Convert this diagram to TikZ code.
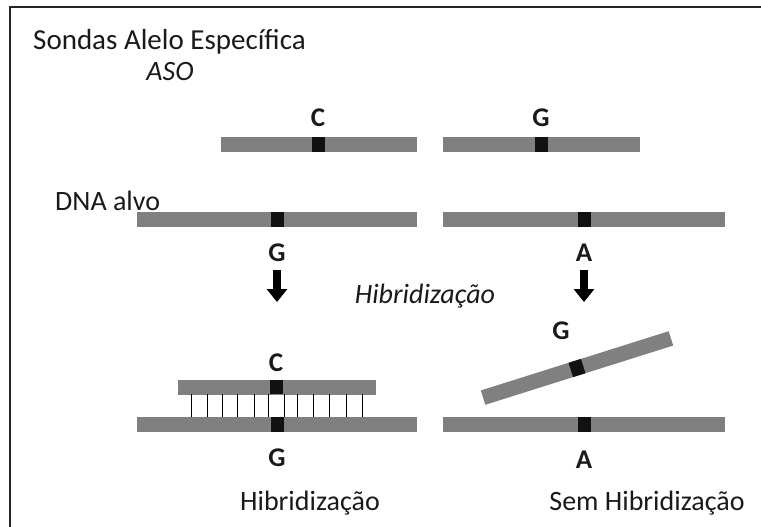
\documentclass[tikz,border=0pt]{standalone}
\usepackage{fontspec}
\setmainfont{Carlito}
\usetikzlibrary{arrows.meta}
\definecolor{bargray}{HTML}{808080}
\definecolor{snp}{HTML}{111111}
\definecolor{txt}{HTML}{1A1A1A}
\begin{document}
\begin{tikzpicture}[x=1pt,y=-1pt,
  bar/.style={fill=bargray, draw=none, inner sep=0pt, minimum height=15pt},
  snpbox/.style={fill=snp, draw=none, inner sep=0pt, minimum width=13pt, minimum height=15pt},
  base/.style={font=\fontsize{27}{27}\selectfont\bfseries, text=txt, inner sep=0pt},
  lbl/.style={font=\fontsize{28}{28}\selectfont, text=txt, inner sep=0pt},
  bigarrow/.style={line width=7.5pt, -{Triangle[width=20pt,length=13pt]}, draw=black},
  rung/.style={line width=1pt, draw=black}]
\useasboundingbox (0,0) rectangle (761,527);
\fill[white] (0,0) rectangle (761,527);
\draw[line width=2pt, draw=black!85] (10,527) -- (10,7) -- (761,7);

% titles
\node[lbl, anchor=west, font=\fontsize{29}{29}\selectfont] (title) at (33,42) {Sondas Alelo Específica};
\node[lbl, font=\fontsize{28}{28}\selectfont\itshape] (aso) at (170,72) {ASO};
\node[lbl, anchor=west] (dna) at (55,201) {DNA alvo};

% probes
\node[bar, minimum width=196pt] (p1) at (319,144) {};
\node[snpbox] (p1s) at (318,144) {};
\node[base] (p1l) at (318,118) {C};
\node[bar, minimum width=197pt] (p2) at (541.5,144) {};
\node[snpbox] (p2s) at (541,144) {};
\node[base] (p2l) at (541,118) {G};

% targets
\node[bar, minimum width=280pt] (t1) at (277,219.5) {};
\node[snpbox] (t1s) at (277,219.5) {};
\node[base] (t1l) at (277,253) {G};
\node[bar, minimum width=282pt] (t2) at (584,219.5) {};
\node[snpbox] (t2s) at (584,219.5) {};
\node[base] (t2l) at (584,253) {A};

% arrows
\coordinate (a1s) at (277,270);
\coordinate (a1e) at (277,302);
\coordinate (a2s) at (584,270);
\coordinate (a2e) at (584,302);
\draw[bigarrow] (a1s) -- (a1e);
\draw[bigarrow] (a2s) -- (a2e);
\node[lbl, font=\fontsize{28}{28}\selectfont\itshape] (hib) at (425,296) {Hibridização};

% bottom left: hybridized
\node[bar, minimum width=198pt] (p3) at (277,387) {};
\node[snpbox, minimum height=14pt] (p3s) at (276,387) {};
\node[base] (p3l) at (276,363) {C};
\node[bar, minimum width=280pt] (t3) at (277,424) {};
\node[snpbox] (t3s) at (277,424) {};
\node[base] (t3l) at (277,458) {G};
\foreach \x in {191,207,222,237,254,268,284,297,313,329,346,362}
  \draw[rung] (\x,394) -- (\x,416.5);
\node[lbl] (hibl) at (310,503) {Hibridização};

% bottom right: no hybridization
\node[bar, minimum width=197pt, rotate=17.5] (p4) at (577,368) {};
\node[snpbox, rotate=17.5] (p4s) at (577,368) {};
\node[base] (p4l) at (561,331) {G};
\node[bar, minimum width=282pt] (t4) at (584,424) {};
\node[snpbox] (t4s) at (584,424) {};
\node[base] (t4l) at (584,460) {A};
\node[lbl] (semhib) at (647,503) {Sem Hibridização};
\end{tikzpicture}
\end{document}
